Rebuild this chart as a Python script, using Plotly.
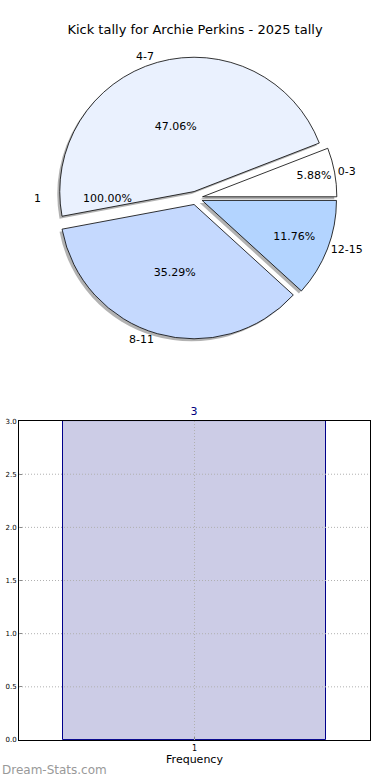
import plotly.graph_objects as go

# ---- data ----
pie_labels = ["0-3", "4-7", "8-11", "12-15"]
pie_values = [1, 8, 6, 2]
pie_colors = ["#ffffff", "#eaf1fe", "#c5d9fe", "#b3d4ff"]
pie_pull = [0.05, 0.05, 0.05, 0.05]
overlay_label = "1"
overlay_pct = "100.00%"

bar_x = ["1"]
bar_y = [3]
y_ticks = [0.0, 0.5, 1.0, 1.5, 2.0, 2.5, 3.0]

title = "Kick tally for Archie Perkins - 2025 tally"
font = "DejaVu Sans"

fig = go.Figure()

# start first slice at 3 o'clock going counter-clockwise
rot = 90 - 360 * pie_values[0] / sum(pie_values)

# geometry of pie domain (paper coords)
half_w = 0.41 * 0.98
half_h = half_w * 351 / 740
pcx, pcy = 0.504, 0.7324
pd_x = [pcx - half_w, pcx + half_w]
pd_y = [pcy - half_h, pcy + half_h]
sx, sy = 2.5 / 351, 2.5 / 740

# shadow
fig.add_trace(go.Pie(
    labels=pie_labels, values=pie_values, sort=False, direction="counterclockwise",
    rotation=rot, pull=pie_pull, textinfo="none", hoverinfo="skip",
    marker=dict(colors=["rgba(0,0,0,0.3)"] * 4, line=dict(width=0)),
    domain=dict(x=[pd_x[0] - sx, pd_x[1] - sx], y=[pd_y[0] - sy, pd_y[1] - sy]),
    showlegend=False,
))
# main pie with percents
fig.add_trace(go.Pie(
    labels=pie_labels, values=pie_values, sort=False, direction="counterclockwise",
    rotation=rot, pull=pie_pull, texttemplate="%{percent:.2%}", textposition="inside",
    insidetextorientation="horizontal",
    textfont=dict(family=font, size=11, color="black"),
    marker=dict(colors=pie_colors, line=dict(color="black", width=0.8)),
    domain=dict(x=pd_x, y=pd_y), showlegend=False,
))
# outside labels
fig.add_trace(go.Pie(
    labels=pie_labels, values=pie_values, sort=False, direction="counterclockwise",
    rotation=rot, pull=pie_pull, textinfo="label", textposition="outside",
    textfont=dict(family=font, size=11, color="black"),
    marker=dict(colors=["rgba(0,0,0,0)"] * 4, line=dict(width=0)),
    domain=dict(x=pd_x, y=pd_y), showlegend=False, hoverinfo="skip",
))

# bar chart
fig.add_trace(go.Bar(
    x=bar_x, y=bar_y, width=0.75, text=[str(v) for v in bar_y], textposition="outside",
    textfont=dict(family=font, size=11, color="#000080"), cliponaxis=False,
    marker=dict(color="#ccccE6", line=dict(color="#00008b", width=1)),
    showlegend=False,
))

r_px = half_w * 351 / 1.05
grid_style = dict(color="#b0b0b0", width=1, dash="1px,2px")
shapes = [dict(type="line", xref="x domain", yref="y", x0=0, x1=1, y0=t, y1=t,
               line=grid_style, layer="above") for t in y_ticks[1:-1]]
shapes += [dict(type="line", xref="x", yref="y domain", x0=i, x1=i, y0=0, y1=1,
                line=grid_style, layer="above") for i in range(len(bar_x))]

fig.update_layout(
    width=390, height=780,
    margin=dict(l=19, r=20, t=0, b=40),
    paper_bgcolor="white", plot_bgcolor="white",
    font=dict(family=font, color="black"),
    title=dict(text=title, x=0.5, xanchor="center", y=0.962, yanchor="middle",
               font=dict(family=font, size=13)),
    bargap=0,
    shapes=shapes,
    xaxis=dict(domain=[0, 1], range=[-0.5, 0.5], type="category", showgrid=False,
               showline=True, linecolor="black", mirror=True, linewidth=1,
               ticks="inside", ticklen=3, tickcolor="#888", automargin=False,
               tickfont=dict(size=8), title=dict(text="Frequency", font=dict(size=11), standoff=2)),
    yaxis=dict(domain=[0, 0.431], range=[0, 3], tickvals=y_ticks,
               ticktext=[f"{t:.1f}" for t in y_ticks], showgrid=False,
               showline=True, linecolor="black", mirror=True, linewidth=1,
               ticks="inside", ticklen=3, tickcolor="#888", automargin=False,
               tickfont=dict(size=7), zeroline=False),
    annotations=[
        dict(text=overlay_label, xref="paper", yref="paper", x=pcx - 1.18 * r_px / 351, y=pcy,
             showarrow=False, font=dict(size=11), xanchor="center", yanchor="middle"),
        dict(text=overlay_pct, xref="paper", yref="paper", x=pcx - 0.66 * r_px / 351, y=pcy,
             showarrow=False, font=dict(size=11), xanchor="center", yanchor="middle"),
        dict(text="Dream-Stats.com", xref="paper", yref="paper", x=-19 / 351, y=-30 / 740,
             xanchor="left", yanchor="middle", showarrow=False,
             font=dict(size=12, color="#999999")),
    ],
)

fig.write_html("out.html", post_script="document.body.style.margin='0';",
               config={"displayModeBar": False})
